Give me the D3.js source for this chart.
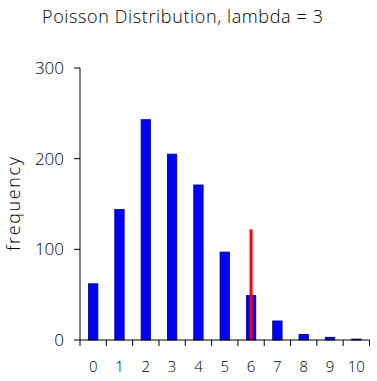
<!DOCTYPE html>
<html>
<head>
<meta charset="utf-8">
<script src="https://cdn.jsdelivr.net/npm/d3@7"></script>
<style>
  body { margin: 0; background: #fff; }
  text { font-family: "Open Sans", "DejaVu Sans", sans-serif; font-weight: 300; fill: #000; }
</style>
</head>
<body>
<svg id="chart" width="377" height="381"></svg>
<script>

// counts for k = 0..10
var categories = [0, 1, 2, 3, 4, 5, 6, 7, 8, 9, 10]
var counts = [62, 144, 243, 205, 171, 97, 49, 21, 6, 3, 1]
var yTicks = [0, 100, 200, 300]

// red marker line
var markerAt = 6
var markerValue = 122

var margin = { left: 80, right: 7.5, top: 68, bottom: 41 }
var width = 377, height = 381

var svg = d3.select('#chart')

var x = d3.scaleBand()
    .domain(categories)
    .range([margin.left, width - margin.right])

var y = d3.scaleLinear()
    .domain([0, 300])
    .range([height - margin.bottom, margin.top])

svg.append('text')
    .attr('x', 182.5)
    .attr('y', 23)
    .attr('text-anchor', 'middle')
    .attr('font-size', '18px')
    .attr('textLength', 281)
    .attr('lengthAdjust', 'spacing')
    .text('Poisson Distribution, lambda = 3')

svg.append('text')
    .attr('transform', 'translate(20,' + 204 + ') rotate(-90)')
    .attr('text-anchor', 'middle')
    .attr('font-size', '18px')
    .attr('textLength', 94)
    .attr('lengthAdjust', 'spacing')
    .text('frequency')

// bars
svg.append('g')
    .selectAll('rect')
    .data(counts)
    .enter().append('rect')
    .attr('x', (d, i) => x(categories[i]) + x.bandwidth() / 2 - 4.7)
    .attr('width', 9.4)
    .attr('y', d => y(d))
    .attr('height', d => y(0) - y(d))
    .attr('fill', '#0000ff')
    .attr('stroke', '#000080')
    .attr('stroke-width', 0.8)

svg.append('line')
    .attr('x1', x(markerAt) + x.bandwidth() / 2)
    .attr('x2', x(markerAt) + x.bandwidth() / 2)
    .attr('y1', y(markerValue))
    .attr('y2', y(0))
    .attr('stroke', '#ff0000')
    .attr('stroke-width', 3)

// y axis
var yAxis = svg.append('g')
yAxis.append('line')
    .attr('x1', margin.left).attr('x2', margin.left)
    .attr('y1', y(300)).attr('y2', y(0))
    .attr('stroke', '#000')
yAxis.selectAll('.tk')
    .data(yTicks)
    .enter().append('line')
    .attr('x1', margin.left - 6).attr('x2', margin.left)
    .attr('y1', d => y(d)).attr('y2', d => y(d))
    .attr('stroke', '#000')
yAxis.selectAll('text')
    .data(yTicks)
    .enter().append('text')
    .attr('x', 64)
    .attr('y', d => y(d) + 6)
    .attr('text-anchor', 'end')
    .attr('font-size', '17px')
    .text(d => d)

// x axis
var xAxis = svg.append('g')
xAxis.append('line')
    .attr('x1', margin.left).attr('x2', width - margin.right)
    .attr('y1', y(0)).attr('y2', y(0))
    .attr('stroke', '#000')
var edges = categories.map(c => x(c)).concat([width - margin.right])
xAxis.selectAll('.tk')
    .data(edges)
    .enter().append('line')
    .attr('x1', d => d).attr('x2', d => d)
    .attr('y1', y(0)).attr('y2', y(0) + 6)
    .attr('stroke', '#000')
xAxis.selectAll('text')
    .data(categories)
    .enter().append('text')
    .attr('x', d => x(d) + x.bandwidth() / 2)
    .attr('y', y(0) + 32)
    .attr('text-anchor', 'middle')
    .attr('font-size', '15px')
    .text(d => d)

</script>
</body>
</html>
